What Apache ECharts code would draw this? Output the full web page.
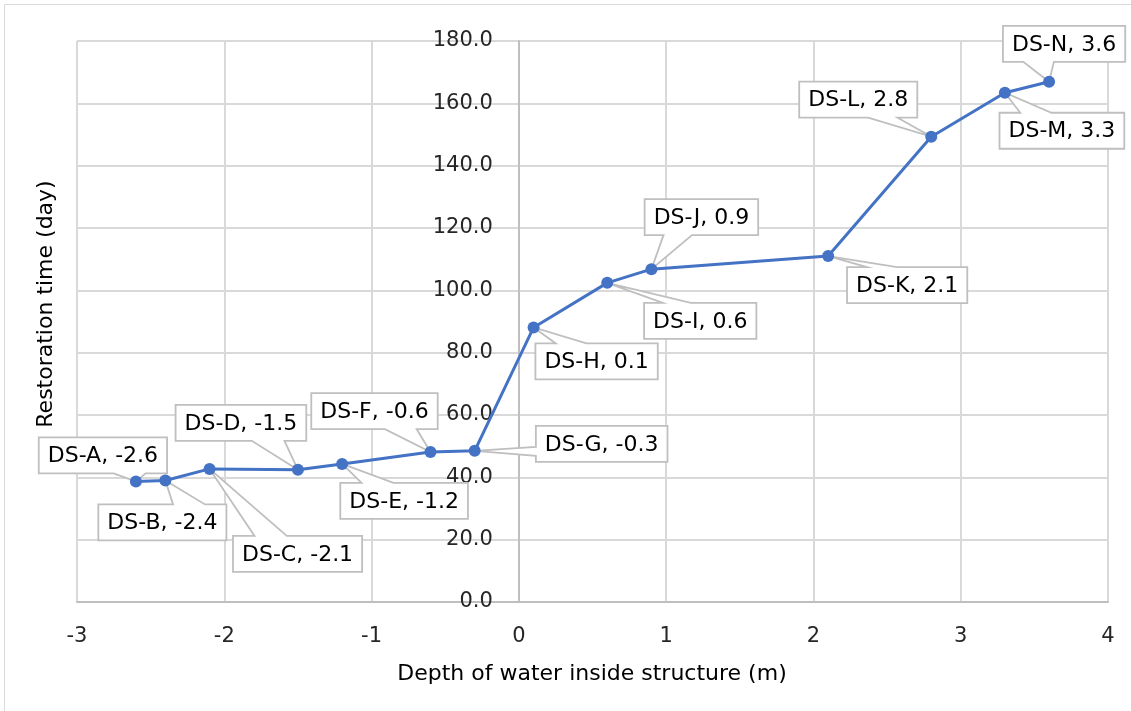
<!DOCTYPE html>
<html>
<head>
<meta charset="utf-8">
<script src="https://cdn.jsdelivr.net/npm/echarts@6/dist/echarts.min.js"></script>
<style>
html,body{margin:0;padding:0;background:#fff;}
#chart{width:1131px;height:711px;}
</style>
</head>
<body>
<div id="chart"></div>
<script>
// ---- data ----
var names = ['DS-A','DS-B','DS-C','DS-D','DS-E','DS-F','DS-G','DS-H','DS-I','DS-J','DS-K','DS-L','DS-M','DS-N'];
var depth = [-2.6,-2.4,-2.1,-1.5,-1.2,-0.6,-0.3,0.1,0.6,0.9,2.1,2.8,3.3,3.6];
var restorationDays = [38.7,39.0,42.7,42.4,44.3,48.1,48.5,88.1,102.4,106.8,111.0,149.3,163.4,166.9];
var xTicks = {min:-3, max:4, step:1};
var yTicks = {min:0, max:180, step:20};

// ---- label callout offsets: box centre relative to its point, in px (layout only) ----
var labelOffsets = [[-33,-26],[-3,42],[88,85],[-57,-47],[62,37],[-56,-41],[127,-7],[63,34],[93,38],[50,-52],[79,29],[-73,-37],[57,38],[15,-38]];

var FONT = 'DejaVu Sans';
var LABEL_FONT_SIZE = 22;
var BOX_H = 36, BOX_PAD = 9;
var GRID = {left:77, right:23, top:41, bottom:109};
var plotW = 1131 - GRID.left - GRID.right;
var zeroOffset = plotW * (0 - xTicks.min) / (xTicks.max - xTicks.min);

var seriesData = depth.map(function(d,i){ return [d, restorationDays[i]]; });

var measureCtx = document.createElement('canvas').getContext('2d');
measureCtx.font = LABEL_FONT_SIZE + 'px "' + FONT + '"';
function labelText(i){ return names[i] + ', ' + depth[i]; }

// Excel-style wedgeRectCallout outline
function calloutPoints(l, t, w, h, tipX, tipY){
  var r = l + w, b = t + h, hc = l + w/2, vc = t + h/2;
  var dx = tipX - hc, dy = tipY - vc;
  var dq = dx * h / w, dz = Math.abs(dy) - Math.abs(dq);
  var x1 = l + w * (dx > 0 ? 7 : 2) / 12, x2 = l + w * (dx > 0 ? 10 : 5) / 12;
  var y1 = t + h * (dy > 0 ? 7 : 2) / 12, y2 = t + h * (dy > 0 ? 10 : 5) / 12;
  var xl = dz > 0 ? l : (dx > 0 ? l : tipX);
  var xt = dz > 0 ? (dy > 0 ? x1 : tipX) : x1;
  var xr = dz > 0 ? r : (dx > 0 ? tipX : r);
  var xb = dz > 0 ? (dy > 0 ? tipX : x1) : x1;
  var yl = dz > 0 ? y1 : (dx > 0 ? y1 : tipY);
  var yt = dz > 0 ? (dy > 0 ? t : tipY) : t;
  var yr = dz > 0 ? y1 : (dx > 0 ? tipY : y1);
  var yb = dz > 0 ? (dy > 0 ? tipY : b) : b;
  return [[l,t],[x1,t],[xt,yt],[x2,t],[r,t],[r,y1],[xr,yr],[r,y2],[r,b],[x2,b],[xb,yb],[x1,b],[l,b],[l,y2],[xl,yl],[l,y1]];
}

var chart = echarts.init(document.getElementById('chart'), null, {renderer:'canvas'});
chart.setOption({
  animation:false,
  backgroundColor:'#fff',
  textStyle:{fontFamily:FONT},
  grid:{left:GRID.left,right:GRID.right,top:GRID.top,bottom:GRID.bottom,containLabel:false},
  xAxis:{
    type:'value', min:xTicks.min, max:xTicks.max, interval:xTicks.step,
    axisLine:{show:true,onZero:true,lineStyle:{color:'#bfbfbf',width:2}},
    axisTick:{show:false},
    axisLabel:{fontSize:21,color:'#262626',margin:24,fontFamily:FONT},
    splitLine:{show:true,lineStyle:{color:'#d9d9d9',width:2}}
  },
  yAxis:{
    type:'value', min:yTicks.min, max:yTicks.max, interval:yTicks.step,
    position:'left',
    offset:-zeroOffset,
    axisLine:{show:true,onZero:false,lineStyle:{color:'#bfbfbf',width:2}},
    axisTick:{show:false},
    axisLabel:{fontSize:21,color:'#262626',margin:26,fontFamily:FONT,
      formatter:function(v){return v.toFixed(1);}},
    splitLine:{show:true,lineStyle:{color:'#d9d9d9',width:2}}
  },
  graphic:[
    {type:'rect',left:2,top:2,shape:{width:1127,height:707},
     style:{fill:'none',stroke:'#d9d9d9',lineWidth:1},silent:true,z:-1},
    {type:'text',x:46,y:304,rotation:Math.PI/2,
     style:{text:'Restoration time (day)',fontSize:22,fill:'#000',fontFamily:FONT,align:'center',verticalAlign:'middle'}},
    {type:'text',x:592,y:674,
     style:{text:'Depth of water inside structure (m)',fontSize:22,fill:'#000',fontFamily:FONT,align:'center',verticalAlign:'middle'}}
  ],
  series:[
    {
      type:'custom',
      data:seriesData,
      z:3,
      clip:false,
      renderItem:function(params, api){
        var i = params.dataIndex;
        var p = api.coord([api.value(0), api.value(1)]);
        var txt = labelText(i);
        var w = measureCtx.measureText(txt).width + 2*BOX_PAD;
        var cx = p[0] + labelOffsets[i][0], cy = p[1] + labelOffsets[i][1];
        var l = cx - w/2, t = cy - BOX_H/2;
        return {
          type:'group',
          children:[
            {type:'polygon', shape:{points:calloutPoints(l, t, w, BOX_H, p[0], p[1])},
             style:{fill:'#fff', stroke:'#bfbfbf', lineWidth:1.8}},
            {type:'text', x:cx, y:cy+1,
             style:{text:txt, font:LABEL_FONT_SIZE+'px "'+FONT+'"', fill:'#000', align:'center', verticalAlign:'middle'}}
          ]
        };
      }
    },
    {
      type:'line',
      data:seriesData,
      symbol:'circle',
      symbolSize:12,
      lineStyle:{color:'#4472C4',width:3},
      itemStyle:{color:'#4472C4'},
      z:5
    }
  ]
});
</script>
</body>
</html>
